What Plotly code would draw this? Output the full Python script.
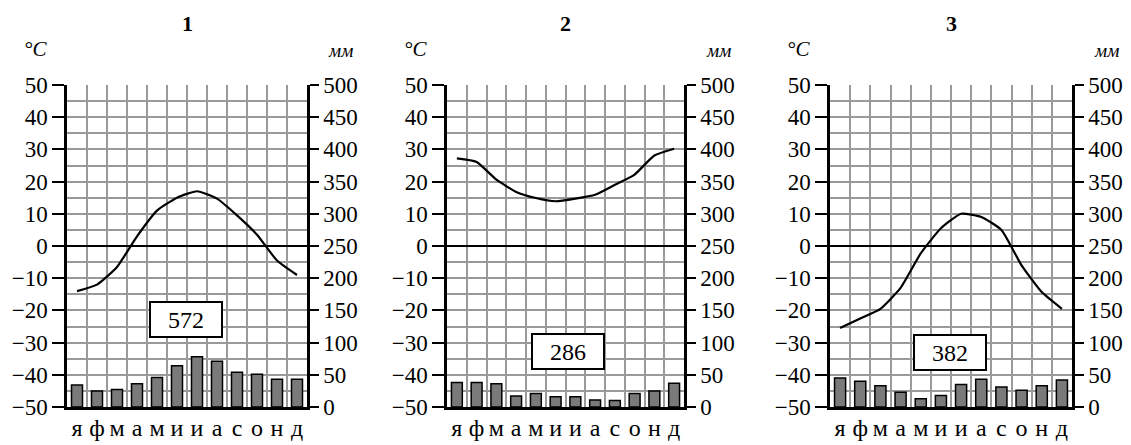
import plotly.graph_objects as go

months = ["я", "ф", "м", "а", "м", "и", "и", "а", "с", "о", "н", "д"]
panel_titles = ["1", "2", "3"]
totals = ["572", "286", "382"]

temp_1 = [-14, -12, -6.5, 3, 11, 15, 17, 14.7, 9.5, 3.5, -4.5, -9]
prec_1 = [34, 25, 27, 36, 46, 64, 78, 71, 54, 51, 43, 43]

temp_2 = [27.2, 26.1, 20.6, 16.8, 14.9, 13.9, 14.7, 15.9, 19, 22.2, 28.1, 30.2]
prec_2 = [38, 38, 36, 17, 21, 16, 16, 11, 10, 21, 25, 37]

temp_3 = [-25.5, -22.5, -19.5, -13, -2.3, 5.5, 10, 9, 5, -6, -14.3, -19.5]
prec_3 = [45, 40, 33, 23, 13, 18, 35, 43, 31, 26, 33, 42]

temps = [temp_1, temp_2, temp_3]
precs = [prec_1, prec_2, prec_3]

# page has an 8px body margin; figure sized to fit the window
W, H = 1123, 437
OFF = 8
def px_x(p):
    return (p - OFF) / W
def px_y(p):
    return 1 - (p - OFF) / H

x_domains = [[px_x(67), px_x(307)], [px_x(447), px_x(684)], [px_x(830), px_x(1072)]]
y_domain = [px_y(407), px_y(85)]
box_pos = [(5.45, -22.8), (5.63, -32.8), (5.47, -33.1)]

FONT = "Liberation Serif, Times New Roman, serif"
xs = list(range(12))

fig = go.Figure()
layout = dict(
    template="none",
    width=W, height=H,
    margin=dict(l=0, r=0, t=0, b=0, pad=0, autoexpand=False),
    paper_bgcolor="white", plot_bgcolor="white",
    showlegend=False,
    font=dict(family=FONT, color="black"),
    annotations=[],
)

for i in range(3):
    n = i + 1
    xa = "x" if n == 1 else f"x{n}"
    ya_t = "y" if n == 1 else f"y{2*n-1}"
    ya_p = f"y{2*n}"
    fig.add_trace(go.Scatter(
        x=xs, y=temps[i], mode="lines",
        line=dict(color="black", width=2.2, shape="spline", smoothing=0.5),
        xaxis=xa, yaxis=ya_t, hoverinfo="skip"))
    fig.add_trace(go.Bar(
        x=xs, y=precs[i], width=0.55,
        marker=dict(color="#7a7a7a", line=dict(color="black", width=1.5)),
        xaxis=xa, yaxis=ya_p, hoverinfo="skip"))

    xkey = "xaxis" if n == 1 else f"xaxis{n}"
    ytkey = "yaxis" if n == 1 else f"yaxis{2*n-1}"
    ypkey = f"yaxis{2*n}"
    layout[xkey] = dict(
        domain=x_domains[i], range=[-0.5, 11.5], anchor=ya_t, automargin=False,
        tickvals=xs, ticktext=months, showgrid=False,
        ticks="", ticklen=0, ticklabelstandoff=-3,
        tickfont=dict(family=FONT, size=24, color="black"),
        showline=True, linecolor="black", linewidth=2.5,
        zeroline=False, fixedrange=True,
        minor=dict(tickvals=[k - 0.5 for k in range(13)], showgrid=True,
                   gridcolor="#9a9a9a", gridwidth=1.5, ticks=""),
    )
    layout[ytkey] = dict(
        domain=y_domain, range=[-50, 50], anchor=xa, automargin=False,
        dtick=10, tick0=0, showgrid=True, gridcolor="#9a9a9a", gridwidth=1.5,
        minor=dict(dtick=5, showgrid=True, gridcolor="#9a9a9a", gridwidth=1.5, ticks=""),
        ticks="outside", ticklen=12, tickwidth=2, tickcolor="black",
        tickfont=dict(family=FONT, size=23, color="black"),
        showline=True, linecolor="black", linewidth=2.5,
        zeroline=True, zerolinecolor="black", zerolinewidth=2,
        fixedrange=True,
    )
    layout[ypkey] = dict(
        range=[0, 500], overlaying=ya_t, anchor=xa, side="right", automargin=False,
        dtick=50, showgrid=False, zeroline=False,
        ticks="outside", ticklen=9, tickwidth=2, tickcolor="black",
        tickfont=dict(family=FONT, size=23, color="black"),
        showline=True, linecolor="black", linewidth=2.5,
        fixedrange=True,
    )
    x0, x1 = x_domains[i]
    xc = (x0 + x1) / 2
    layout["annotations"] += [
        dict(text=f"<b>{panel_titles[i]}</b>", x=xc, y=px_y(23), xref="paper", yref="paper",
             showarrow=False, font=dict(size=22, family=FONT), xanchor="center", yanchor="middle"),
        dict(text="<i>°C</i>", x=x0 - 32 / W, y=px_y(49), xref="paper", yref="paper",
             showarrow=False, font=dict(size=21, family=FONT), xanchor="center", yanchor="middle"),
        dict(text="<i>мм</i>", x=x1 + 34 / W, y=px_y(50), xref="paper", yref="paper",
             showarrow=False, font=dict(size=19, family=FONT), xanchor="center", yanchor="middle"),
        dict(text=totals[i], x=box_pos[i][0], y=box_pos[i][1], xref=xa, yref=ya_t,
             showarrow=False, font=dict(size=24, family=FONT), width=68, height=31,
             bgcolor="white", bordercolor="black", borderwidth=2, borderpad=1,
             xanchor="center", yanchor="middle"),
    ]

fig.update_layout(**layout)
fig.write_html("out.html")
